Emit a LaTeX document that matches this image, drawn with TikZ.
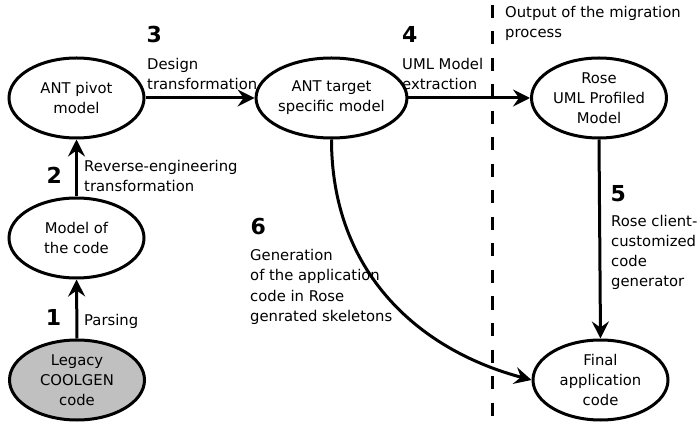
\documentclass[tikz,border=0pt]{standalone}
\usepackage{fontspec}
\setmainfont{DejaVu Sans}
\usetikzlibrary{arrows.meta,calc,shapes.geometric}
\definecolor{leggray}{RGB}{192,192,192}
\begin{document}
\begin{tikzpicture}[x=1pt,y=-1pt,
  model/.style={ellipse, draw, line width=3pt, minimum width=135pt, minimum height=80pt, inner sep=0pt, align=center, font=\fontsize{14.8}{20}\selectfont},
  flow/.style={line width=3pt, -{Stealth[length=17pt,width=17pt,inset=6pt]}},
  lbl/.style={anchor=base west, inner sep=0pt, align=left, font=\fontsize{14.8}{20}\selectfont},
  num/.style={anchor=base west, inner sep=0pt, font=\fontsize{22}{24}\selectfont\bfseries}]
\useasboundingbox (0,0) rectangle (698,427);
% nodes
\node[model] (piv) at (76.5,98) {ANT pivot\\model};
\node[model] (moc) at (76.5,238) {Model of\\the code};
\node[model, fill=leggray] (leg) at (77,380) {Legacy\\COOLGEN\\code};
\node[model] (tgt) at (331.5,98) {ANT target\\specific model};
\node[model] (rose) at (599,98) {Rose\\UML Profiled\\Model};
\node[model] (fin) at (600.5,380) {Final\\application\\code};
% dashed separator
\coordinate (dtop) at (492,5);
\coordinate (dbot) at (492,427);
\draw[line width=3pt, dash pattern=on 13pt off 13.5pt] (dtop) -- (dbot);
% connectors
\draw[flow] (leg.north) -- (moc.south);
\draw[flow] (moc.north) -- (piv.south);
\draw[flow] (piv.east) -- (tgt.west);
\draw[flow] (tgt.east) -- (rose.west);
\draw[flow] (rose.south) -- (fin.north);
\draw[flow] (tgt.south) .. controls ($(tgt.south)+(0,130)$) and ($(fin.west)+(-116,-31)$) .. (fin.west);
% labels (anchor = baseline of the last line)
\node[num] (n3) at (146.5,43) {3};
\node[lbl] (l3) at (147,90) {Design\\transformation};
\node[num] (n2) at (46.5,184) {2};
\node[lbl] (l2) at (84,192) {Reverse-engineering\\transformation};
\node[num] (n1) at (45.6,325) {1};
\node[lbl] (l1) at (84,325) {Parsing};
\node[num] (n4) at (402,43) {4};
\node[lbl] (l4) at (402,90) {UML Model\\extraction};
\node[lbl] (lout) at (505,38) {Output of the migration\\process};
\node[num] (n5) at (610.5,202) {5};
\node[lbl] (l5) at (611,287) {Rose client-\\customized\\code\\generator};
\node[num] (n6) at (250.5,235) {6};
\node[lbl] (l6) at (250,321) {Generation\\of the application\\code in Rose\\genrated skeletons};
\end{tikzpicture}
\end{document}
